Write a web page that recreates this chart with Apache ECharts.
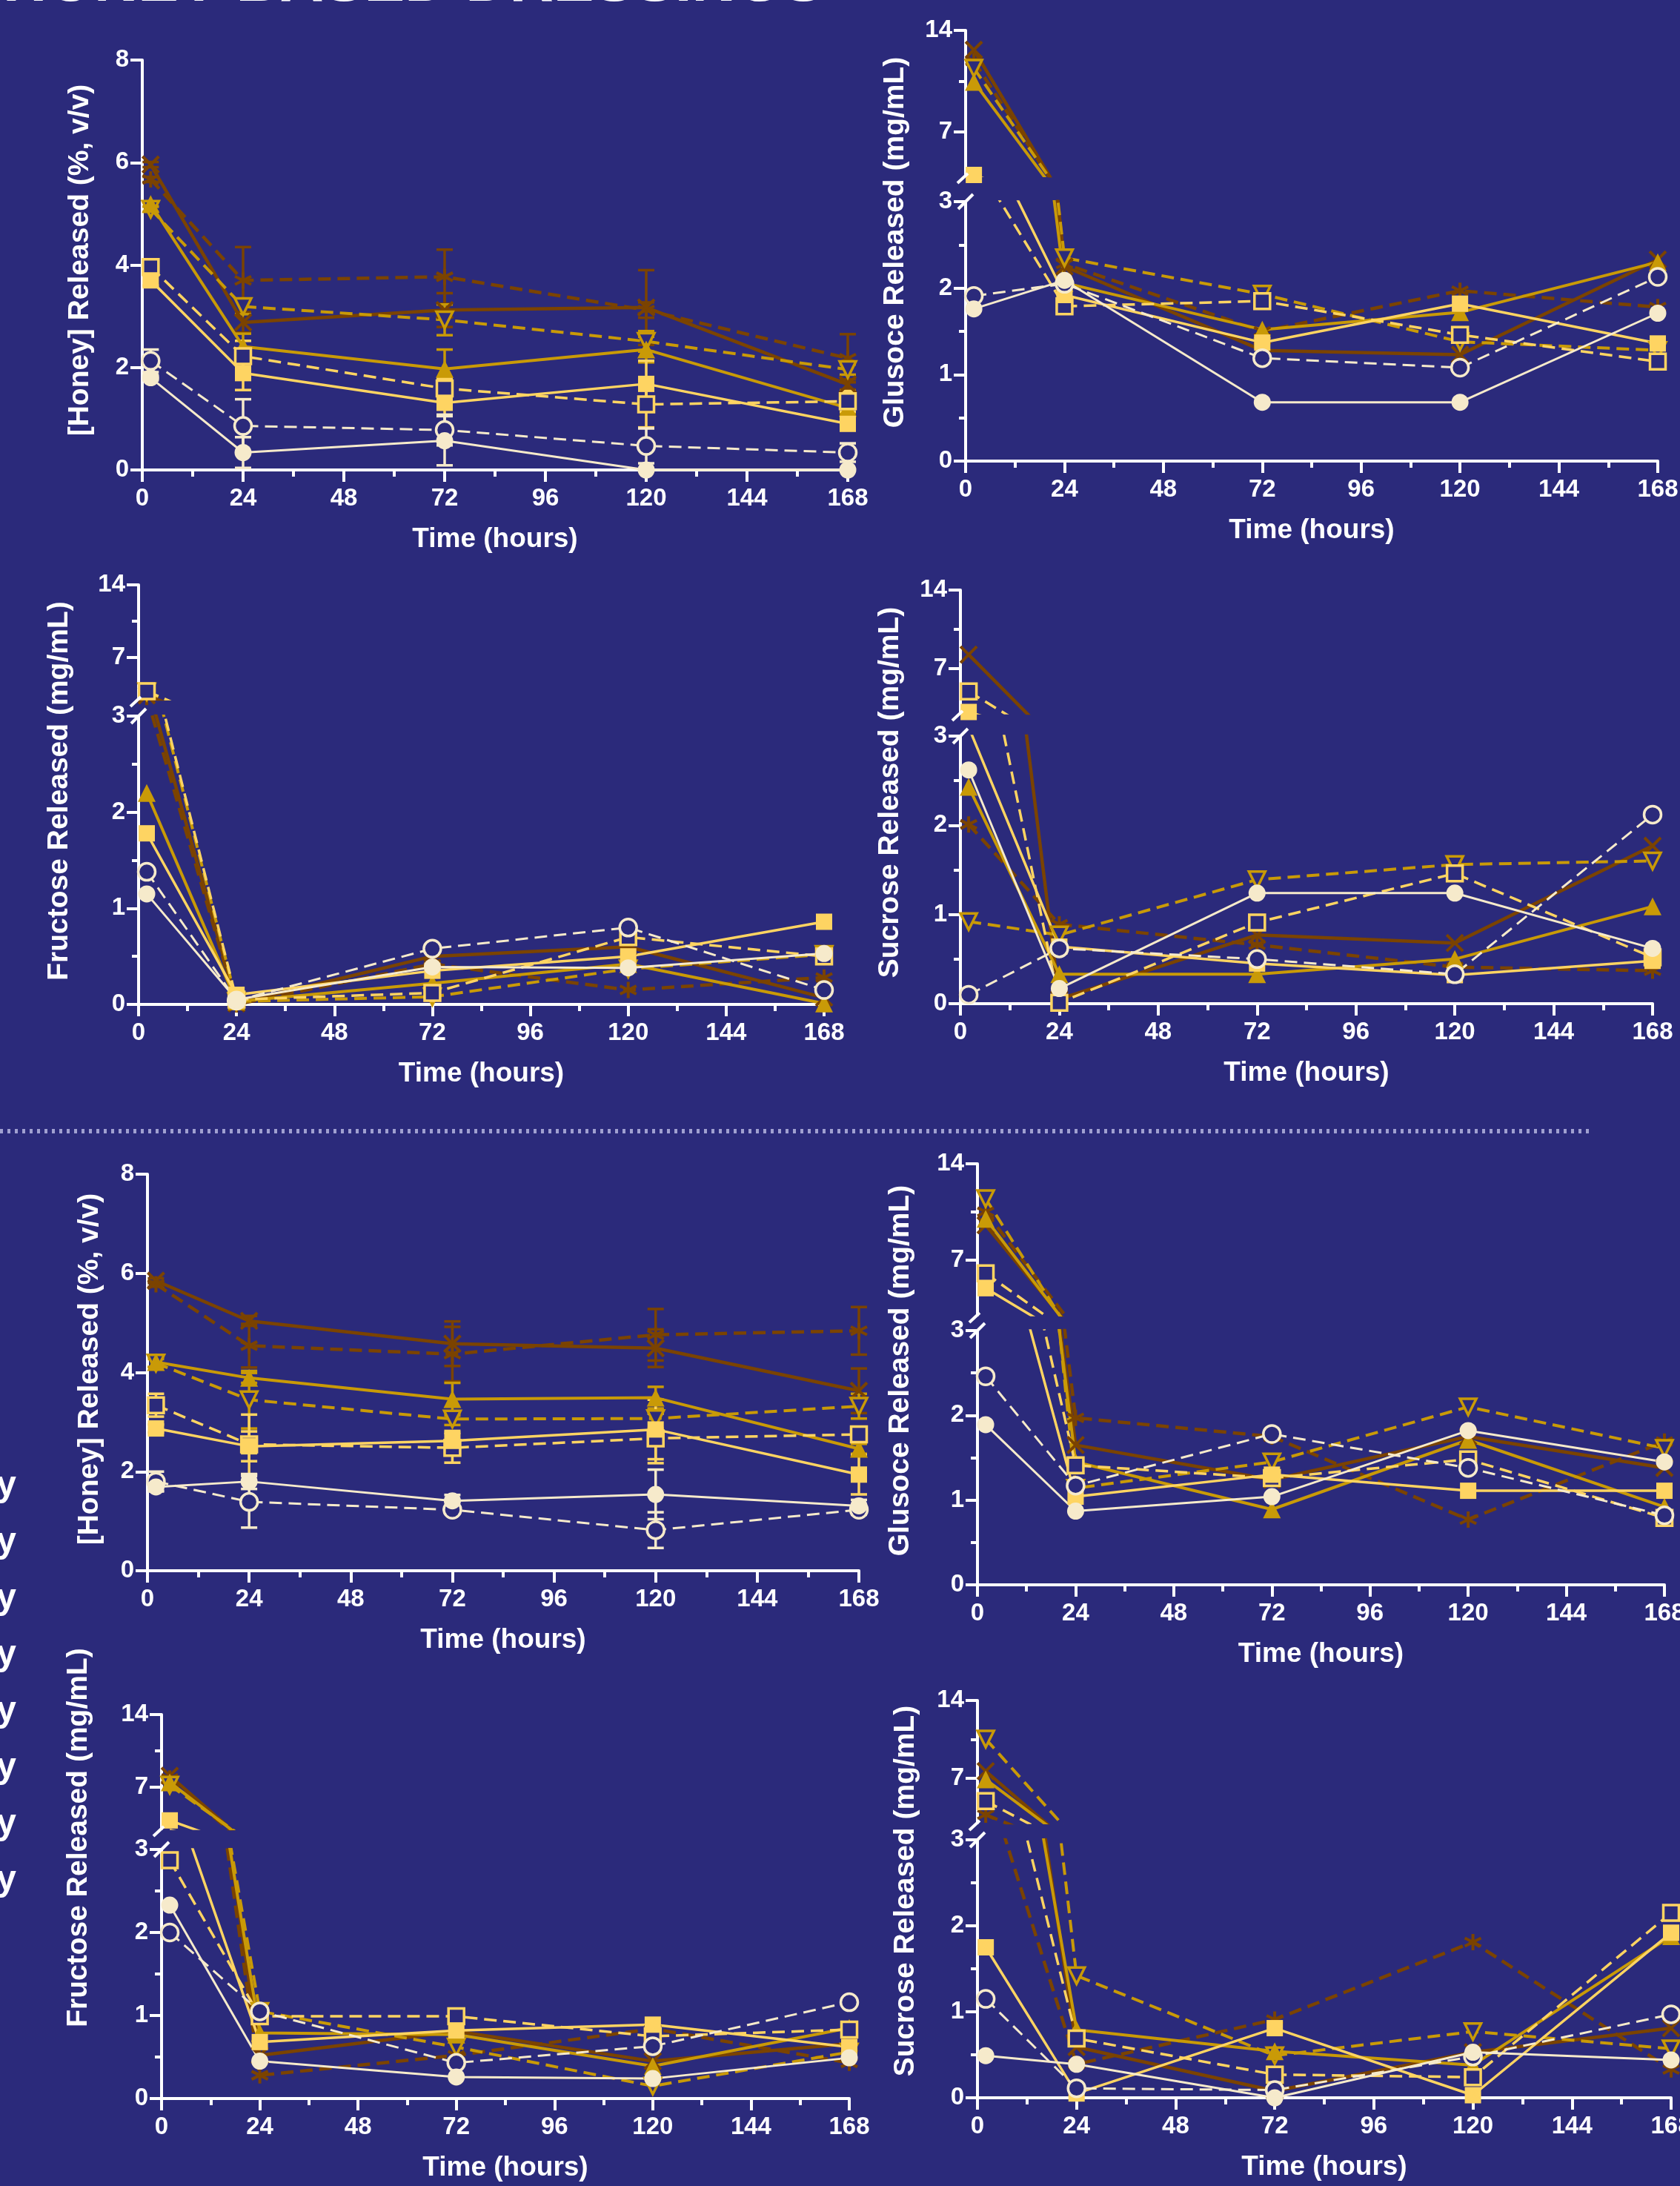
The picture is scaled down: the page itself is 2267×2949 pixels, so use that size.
<!DOCTYPE html>
<html>
<head>
<meta charset="utf-8">
<title>Honey-based dressings release</title>
<script src="https://cdn.jsdelivr.net/npm/echarts@6/dist/echarts.min.js"></script>
<style>
  html, body { margin: 0; padding: 0; background: #2b2a7b; }
  #chart { width: 2267px; height: 2949px; }
</style>
</head>
<body>
<div id="chart"></div>
<script>
// sampling times (h) and axis ticks
var times = [2, 24, 72, 120, 168];
var xTicks = [0, 24, 48, 72, 96, 120, 144, 168];
var upperTicks = [7, 14];
var seriesNames = ['filled circle', 'open circle', 'filled square', 'open square',
  'filled triangle', 'open triangle', 'cross', 'asterisk'];
var yTitles = ['[Honey] Released (%, v/v)', 'Glusoce Released (mg/mL)',
  'Fructose Released (mg/mL)', 'Sucrose Released (mg/mL)'];

// rows follow seriesNames, columns follow times
var honeyTop = [
  [1.80, 0.34, 0.57, 0.00, 0.00],
  [2.13, 0.86, 0.78, 0.47, 0.34],
  [3.70, 1.89, 1.31, 1.68, 0.90],
  [3.96, 2.22, 1.59, 1.28, 1.34],
  [5.19, 2.41, 1.97, 2.35, 1.21],
  [5.09, 3.19, 2.93, 2.51, 1.96],
  [5.96, 2.88, 3.12, 3.17, 1.67],
  [5.67, 3.70, 3.77, 3.12, 2.18]
];
var honeyTopErr = [
  [0.05, 0.30, 0.48, 0.00, 0.00],
  [0.22, 0.52, 0.30, 0.34, 0.18],
  [0.10, 0.33, 0.25, 0.45, 0.10],
  [0.15, 0.30, 0.20, 0.45, 0.20],
  [0.05, 0.25, 0.38, 0.25, 0.10],
  [0.05, 0.15, 0.30, 0.20, 0.10],
  [0.05, 0.20, 0.33, 0.73, 0.10],
  [0.05, 0.65, 0.53, 0.15, 0.47]
];
var glucoseTop = [
  [1.76, 2.09, 0.68, 0.68, 1.71],
  [1.91, 2.05, 1.19, 1.08, 2.13],
  [4.05, 1.92, 1.37, 1.82, 1.36],
  [3.50, 1.79, 1.85, 1.46, 1.15],
  [10.46, 2.06, 1.52, 1.72, 2.30],
  [11.40, 2.35, 1.93, 1.38, 1.28],
  [12.66, 2.25, 1.28, 1.23, 2.33],
  [11.90, 2.28, 1.50, 1.97, 1.78]
];
var fructoseTop = [
  [1.15, 0.05, 0.39, 0.38, 0.53],
  [1.38, 0.04, 0.58, 0.80, 0.15],
  [1.78, 0.10, 0.35, 0.50, 0.86],
  [3.75, 0.05, 0.12, 0.70, 0.50],
  [2.20, 0.03, 0.22, 0.42, 0.01],
  [3.70, 0.03, 0.08, 0.37, 0.52],
  [3.35, 0.01, 0.50, 0.60, 0.07],
  [3.20, 0.00, 0.42, 0.15, 0.28]
];
var sucroseTop = [
  [2.62, 0.17, 1.24, 1.24, 0.62],
  [0.10, 0.62, 0.50, 0.33, 2.12],
  [3.10, 0.64, 0.45, 0.32, 0.48],
  [4.93, 0.01, 0.91, 1.46, 0.52],
  [2.43, 0.33, 0.33, 0.50, 1.09],
  [0.92, 0.77, 1.39, 1.56, 1.60],
  [8.23, 0.05, 0.77, 0.68, 1.77],
  [2.01, 0.89, 0.66, 0.41, 0.37]
];
var honeyBottom = [
  [1.69, 1.80, 1.41, 1.54, 1.31],
  [1.80, 1.39, 1.23, 0.82, 1.23],
  [2.87, 2.51, 2.62, 2.85, 1.94],
  [3.34, 2.55, 2.48, 2.67, 2.75],
  [4.21, 3.89, 3.46, 3.49, 2.46],
  [4.19, 3.45, 3.06, 3.07, 3.32],
  [5.85, 5.04, 4.58, 4.49, 3.63],
  [5.78, 4.54, 4.37, 4.76, 4.84]
];
var honeyBottomErr = [
  [0.08, 0.15, 0.12, 0.50, 0.12],
  [0.20, 0.52, 0.06, 0.36, 0.10],
  [0.08, 0.30, 0.20, 0.60, 0.40],
  [0.23, 0.60, 0.30, 0.50, 0.12],
  [0.10, 0.10, 0.33, 0.22, 0.10],
  [0.08, 0.58, 0.12, 0.20, 0.25],
  [0.05, 0.10, 0.45, 0.38, 0.45],
  [0.05, 0.44, 0.55, 0.52, 0.48]
];
var glucoseBottom = [
  [1.89, 0.87, 1.04, 1.82, 1.45],
  [2.46, 1.17, 1.78, 1.38, 0.82],
  [4.95, 1.04, 1.30, 1.11, 1.11],
  [6.03, 1.41, 1.26, 1.48, 0.79],
  [10.00, 1.45, 0.89, 1.71, 0.92],
  [11.47, 1.14, 1.45, 2.10, 1.61],
  [9.53, 1.65, 1.24, 1.75, 1.38],
  [10.50, 1.97, 1.75, 0.77, 1.69]
];
var fructoseBottom = [
  [2.33, 0.45, 0.26, 0.24, 0.49],
  [2.00, 1.05, 0.43, 0.63, 1.16],
  [3.80, 0.68, 0.82, 0.89, 0.62],
  [2.87, 0.99, 0.99, 0.75, 0.83],
  [7.47, 0.79, 0.77, 0.39, 0.85],
  [7.20, 1.05, 0.62, 0.15, 0.56],
  [8.10, 0.52, 0.81, 0.45, 0.66],
  [7.84, 0.28, 0.52, 0.84, 0.43]
];
var sucroseBottom = [
  [0.49, 0.39, 0.00, 0.53, 0.44],
  [1.15, 0.11, 0.09, 0.48, 0.97],
  [1.75, 0.05, 0.81, 0.03, 1.92],
  [4.95, 0.69, 0.27, 0.24, 2.15],
  [6.90, 0.79, 0.54, 0.38, 1.88],
  [10.53, 1.42, 0.49, 0.77, 0.57],
  [7.64, 0.59, 0.08, 0.53, 0.81],
  [3.73, 0.39, 0.91, 1.81, 0.33]
];

var BG = '#2b2a7b';
var CREAM = '#f6eacb', YELLOW = '#fed462', GOLD = '#c99a07', BROWN = '#7b4300';
var FONT = 'Liberation Sans';

var looks = [
  { symbol: 'circle', size: 23, color: CREAM, open: false, dash: false, width: 3 },
  { symbol: 'circle', size: 23, color: CREAM, open: true, dash: true, width: 3 },
  { symbol: 'rect', size: 22, color: YELLOW, open: false, dash: false, width: 3.5 },
  { symbol: 'rect', size: 21, color: YELLOW, open: true, dash: true, width: 3.5 },
  { symbol: 'triangle', size: 24, color: GOLD, open: false, dash: false, width: 4 },
  { symbol: 'path://M0,0L20,0L10,18Z', size: 22, color: GOLD, open: true, dash: true, width: 4 },
  { symbol: 'path://M0,0L20,20M20,0L0,20', size: 22, color: BROWN, stroke: true, dash: false, width: 4.5 },
  { symbol: 'path://M10,0L10,20M1.3,5L18.7,15M1.3,15L18.7,5', size: 22, color: BROWN, stroke: true, dash: true, width: 4.5 }
];

// panel layout in px (upMin marks panels with a broken y axis)
var panels = [
  { vals: honeyTop, err: honeyTopErr, title: yTitles[0], x0: 192, x1: 1144, top: 81, bot: 634, tx: 108, ty: 351 },
  { vals: glucoseTop, title: yTitles[1], x0: 1303, x1: 2237, top: 41, upBot: 237, upMin: 4, loTop: 272, bot: 622, tx: 1208, ty: 327 },
  { vals: fructoseTop, title: yTitles[2], x0: 187, x1: 1112, top: 789, upBot: 943, upMin: 3, loTop: 966, bot: 1355, tx: 80, ty: 1067 },
  { vals: sucroseTop, title: yTitles[3], x0: 1296, x1: 2230, top: 796, upBot: 962, upMin: 3, loTop: 993, bot: 1354, tx: 1201, ty: 1069 },
  { vals: honeyBottom, err: honeyBottomErr, title: yTitles[0], x0: 199, x1: 1159, top: 1584, bot: 2119, tx: 121, ty: 1847 },
  { vals: glucoseBottom, title: yTitles[1], x0: 1319, x1: 2246, top: 1570, upBot: 1774, upMin: 3, loTop: 1795, bot: 2138, tx: 1215, ty: 1849 },
  { vals: fructoseBottom, title: yTitles[2], x0: 218, x1: 1146, top: 2313, upBot: 2467, upMin: 3, loTop: 2495, bot: 2831, tx: 106, ty: 2479 },
  { vals: sucroseBottom, title: yTitles[3], x0: 1319, x1: 2255, top: 2294, upBot: 2459, upMin: 3, loTop: 2482, bot: 2830, tx: 1222, ty: 2551 }
];

var white = { color: '#fff', width: 4 };
var tickFont = { color: '#fff', fontSize: 33, fontWeight: 'bold', fontFamily: FONT };

function makeX(gi, visible) {
  if (!visible) return { gridIndex: gi, type: 'value', min: 0, max: 168, show: false };
  return {
    gridIndex: gi, type: 'value', min: 0, max: 168, interval: 24,
    name: 'Time (hours)', nameLocation: 'middle', nameGap: 75,
    nameTextStyle: { color: '#fff', fontSize: 37, fontWeight: 'bold', fontFamily: FONT },
    axisLine: { show: true, onZero: false, lineStyle: white },
    axisTick: { show: true, inside: false, length: 16, lineStyle: white },
    minorTick: { show: true, splitNumber: 2, length: 9, lineStyle: white },
    axisLabel: Object.assign({ margin: 22 }, tickFont),
    splitLine: { show: false }, minorSplitLine: { show: false }
  };
}

function makeY(gi, min, max, interval, minor) {
  return {
    gridIndex: gi, type: 'value', position: 'left', min: min, max: max, interval: interval,
    axisLine: { show: true, onZero: false, lineStyle: white },
    axisTick: { show: true, inside: false, length: 16, lineStyle: white },
    minorTick: { show: minor, splitNumber: 2, length: 9, lineStyle: white },
    axisLabel: Object.assign({ margin: 18 }, tickFont),
    splitLine: { show: false }, minorSplitLine: { show: false }
  };
}

function makeUpperY(gi, min) {
  return {
    gridIndex: gi, type: 'value', position: 'left', min: min, max: 14,
    axisLine: { show: true, onZero: false, lineStyle: white },
    axisTick: { show: true, inside: false, length: 16, lineStyle: white, customValues: upperTicks },
    axisLabel: Object.assign({ margin: 18, customValues: upperTicks }, tickFont),
    splitLine: { show: false }
  };
}

function makeUpperMinor(gi, min) {
  return {
    gridIndex: gi, type: 'value', position: 'left', min: min, max: 14,
    axisLine: { show: false },
    axisTick: { show: true, inside: false, length: 9, lineStyle: white, customValues: [10.5] },
    axisLabel: { show: false },
    splitLine: { show: false }
  };
}

function lineSeries(t, row, look, s) {
  var item;
  if (look.stroke) item = { color: look.color, borderColor: look.color, borderWidth: 4 };
  else if (look.open) item = { color: BG, borderColor: look.color, borderWidth: 3.5 };
  else item = { color: look.color };
  return {
    type: 'line', name: seriesNames[s], xAxisIndex: t[0], yAxisIndex: t[1],
    data: times.map(function (tm, i) { return [tm, row[i]]; }),
    clip: true, silent: true, showAllSymbol: true,
    symbol: look.symbol, symbolSize: look.size,
    color: look.color,
    lineStyle: { color: look.color, width: look.width, type: look.dash ? [17, 9] : 'solid' },
    itemStyle: item,
    emphasis: { disabled: true }
  };
}

function errorBars(t, row, errs, color) {
  return {
    type: 'custom', xAxisIndex: t[0], yAxisIndex: t[1], silent: true, clip: false,
    data: times.map(function (tm, i) { return [tm, row[i], errs[i]]; }),
    renderItem: function (params, api) {
      var e = api.value(2);
      if (!e) return { type: 'group', children: [] };
      var x = api.value(0), y = api.value(1);
      var hi = api.coord([x, y + e]);
      var lo = api.coord([x, Math.max(0, y - e)]);
      var w = 11, st = { stroke: color, lineWidth: 3.5 };
      return {
        type: 'group', children: [
          { type: 'line', shape: { x1: hi[0], y1: hi[1], x2: lo[0], y2: lo[1] }, style: st },
          { type: 'line', shape: { x1: hi[0] - w, y1: hi[1], x2: hi[0] + w, y2: hi[1] }, style: st },
          { type: 'line', shape: { x1: lo[0] - w, y1: lo[1], x2: lo[0] + w, y2: lo[1] }, style: st }
        ]
      };
    }
  };
}

var grids = [], xAxes = [], yAxes = [], series = [], graphics = [];

panels.forEach(function (p) {
  var broken = p.upMin !== undefined;
  var lowTop = broken ? p.loTop : p.top;
  var g = grids.length;
  grids.push({ left: p.x0, top: lowTop, width: p.x1 - p.x0, height: p.bot - lowTop, outerBoundsMode: 'none' });
  xAxes.push(makeX(g, true));
  yAxes.push(broken ? makeY(g, 0, 3, 1, true) : makeY(g, 0, 8, 2, false));
  var targets = [[xAxes.length - 1, yAxes.length - 1]];

  if (broken) {
    var gu = grids.length;
    grids.push({ left: p.x0, top: p.top, width: p.x1 - p.x0, height: p.upBot - p.top, outerBoundsMode: 'none' });
    xAxes.push(makeX(gu, false));
    yAxes.push(makeUpperY(gu, p.upMin));
    targets.push([xAxes.length - 1, yAxes.length - 1]);
    yAxes.push(makeUpperMinor(gu, p.upMin));
    // axis break marks
    graphics.push({ type: 'line', z: 20, shape: { x1: p.x0 - 11, y1: p.upBot + 10, x2: p.x0 + 3, y2: p.upBot - 3 },
      style: { stroke: '#fff', lineWidth: 4 } });
    graphics.push({ type: 'line', z: 20, shape: { x1: p.x0 - 10, y1: p.loTop + 10, x2: p.x0 + 10, y2: p.loTop - 10 },
      style: { stroke: '#fff', lineWidth: 4 } });
  }

  for (var s = looks.length - 1; s >= 0; s--) {
    targets.forEach(function (t) {
      if (p.err) series.push(errorBars(t, p.vals[s], p.err[s], looks[s].color));
      series.push(lineSeries(t, p.vals[s], looks[s], s));
    });
  }

  graphics.push({ type: 'text', z: 20, x: p.tx, y: p.ty, rotation: Math.PI / 2,
    style: { text: p.title, fill: '#fff', fontSize: 39, fontWeight: 'bold', fontFamily: FONT,
      align: 'center', verticalAlign: 'middle' } });
});

// page title, cut off at the top edge
graphics.push({ type: 'text', z: 20, x: 4, y: 19,
  style: { text: 'HONEY-BASED DRESSINGS', fill: '#fff', fontSize: 82, fontWeight: 'bold', fontFamily: FONT,
    verticalAlign: 'bottom' } });

// dotted separator
graphics.push({ type: 'line', z: 20, shape: { x1: 0, y1: 1526, x2: 2150, y2: 1526 },
  style: { stroke: '#a0a0d0', lineWidth: 6, lineDash: [4, 6] } });

// legend labels cut off at the left edge
for (var k = 0; k < 8; k++) {
  graphics.push({ type: 'text', z: 20, x: 22, y: 2005 + 76 * k,
    style: { text: 'y', fill: '#fff', fontSize: 48, fontWeight: 'bold', fontFamily: FONT,
      align: 'right', verticalAlign: 'middle' } });
}

var chart = echarts.init(document.getElementById('chart'), null, { renderer: 'canvas' });
chart.setOption({
  backgroundColor: BG,
  animation: false,
  grid: grids,
  xAxis: xAxes,
  yAxis: yAxes,
  series: series,
  graphic: graphics
});
</script>
</body>
</html>
